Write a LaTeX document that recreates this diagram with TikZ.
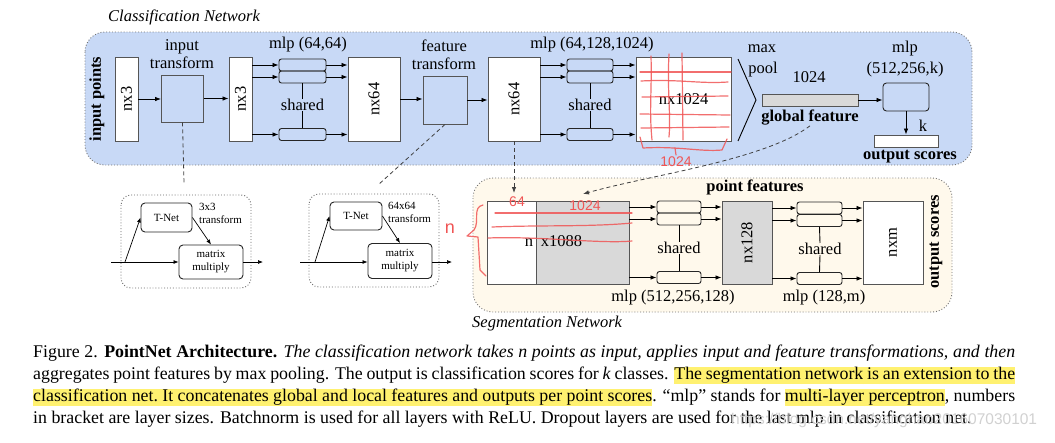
\documentclass[tikz,border=0pt]{standalone}
\usepackage{fontspec}
\setmainfont{Liberation Serif}
\newfontfamily\annfont{Liberation Sans}
\usetikzlibrary{arrows.meta}
\definecolor{clsblue}{RGB}{200,217,246}
\definecolor{segcream}{RGB}{255,249,236}
\definecolor{boxgray}{RGB}{217,217,217}
\definecolor{edgegray}{RGB}{85,85,85}
\definecolor{hly}{RGB}{255,241,112}
\definecolor{annred}{RGB}{240,85,85}
\newcommand\dfont{\fontsize{16.5}{18.5}\selectfont}
\newcommand\sfnt{\fontsize{11}{13}\selectfont}
\newcommand\capfont{\fontsize{17.85}{22.2}\selectfont}
\newcommand\hw[1]{{\setlength{\fboxsep}{0pt}\colorbox{hly}{\rule[-4.5pt]{0pt}{17pt}#1}}}
\newcommand\hs{{\color{hly}\leaders\hrule height 12.5pt depth 4.5pt\hskip\fontdimen2\font plus\fontdimen3\font minus\fontdimen4\font}}
\tikzset{
  bigbox/.style={draw=edgegray, line width=0.9pt, fill=white, inner sep=0pt},
  mlpbox/.style={draw=black!85, line width=0.9pt, rounded corners=2.5pt, inner sep=0pt, minimum height=12pt},
  arr/.style={-{Latex[length=6pt,width=4.5pt]}, line width=0.8pt},
  sarr/.style={-{Latex[length=5pt,width=4pt]}, line width=0.7pt},
  lbl/.style={inner sep=0pt, font=\dfont},
  tnet/.style={draw=black!85, line width=0.9pt, rounded corners=4pt, inner sep=0pt, font=\sfnt, align=center},
  dotbox/.style={draw=black!60, dotted, line width=0.9pt, rounded corners=10pt},
  bgbox/.style={draw=black!55, dotted, line width=0.9pt, rounded corners=20pt},
  dashedline/.style={draw=black!75, dash pattern=on 4pt off 3pt, line width=0.8pt},
  ann/.style={draw=annred, line width=1.2pt, line cap=round, line join=round, opacity=0.85},
  anntext/.style={inner sep=0pt, text=annred, font=\annfont\fontsize{14}{16}\selectfont},
  capline/.style={anchor=base west, inner sep=0pt, font=\capfont}
}
\begin{document}
\begin{tikzpicture}[x=1pt,y=-1pt]
\useasboundingbox (0,0) rectangle (1055,442);
\fill[white] (0,0) rectangle (1055,442);

% ---------------- Classification network ----------------
\draw[bgbox, fill=clsblue] (85,32) rectangle (972,165);
\node[lbl, font=\dfont\itshape, anchor=west] (clstitle) at (108,17) {Classification Network};
\node[lbl, font=\dfont\bfseries, rotate=90] (inpts) at (97,99) {input points};

\node[bigbox, minimum width=23, minimum height=84] (nxa) at (126.5,99) {};
\node[lbl, rotate=90] (nxat) at (nxa) {nx3};
\node[bigbox, fill=none, minimum width=42, minimum height=47] (itf) at (182.5,98.5) {};
\node[lbl, align=center] (itft) at (182,54) {input\\transform};
\node[bigbox, minimum width=23, minimum height=84] (nxb) at (240.5,99) {};
\node[lbl, rotate=90] (nxbt) at (nxb) {nx3};

\node[mlpbox, minimum width=47] (m1a) at (302.5,65) {};
\node[mlpbox, minimum width=47] (m1b) at (302.5,77) {};
\node[mlpbox, minimum width=47] (m1c) at (302.5,134.5) {};
\node[lbl] (sh1) at (302.5,105) {shared};
\node[lbl] (mlp1t) at (308,45) {mlp (64,64)};

\node[bigbox, minimum width=52, minimum height=84] (nx64a) at (374,99) {};
\node[lbl, rotate=90] (nx64at) at (nx64a) {nx64};
\node[bigbox, fill=none, minimum width=44, minimum height=48] (ftf) at (445,100) {};
\node[lbl, align=center] (ftft) at (444,55) {feature\\transform};
\node[bigbox, minimum width=52, minimum height=84] (nx64b) at (514,99) {};
\node[lbl, rotate=90] (nx64bt) at (nx64b) {nx64};

\node[mlpbox, minimum width=46] (m2a) at (590,65) {};
\node[mlpbox, minimum width=46] (m2b) at (590,77) {};
\node[mlpbox, minimum width=46] (m2c) at (590,134.5) {};
\node[lbl] (sh2) at (590,105) {shared};
\node[lbl] (mlp2t) at (592,45) {mlp (64,128,1024)};

\node[bigbox, minimum width=95, minimum height=84] (nx1024) at (683.5,99) {};
\node[lbl] (nx1024t) at (nx1024) {nx1024};

\coordinate (mpa) at (738,59);
\coordinate (mpb) at (756,100);
\coordinate (mpc) at (738,141);
\draw[line width=0.9pt] (mpa) -- (mpb) -- (mpc);
\node[lbl] (maxt) at (762,49) {max};
\node[lbl] (poolt) at (763,70) {pool};
\node[lbl] (gfdim) at (809,77) {1024};
\node[bigbox, fill=boxgray, minimum width=96, minimum height=12] (gf) at (810,100) {};
\node[lbl, font=\dfont\bfseries] (gft) at (810,118) {global feature};

\node[mlpbox, rounded corners=3.5pt, minimum width=46, minimum height=28] (mlp3) at (906,97) {};
\node[lbl] (mlp3t) at (905,49) {mlp};
\node[lbl] (mlp3u) at (905,70) {(512,256,k)};
\node[bigbox, minimum width=64, minimum height=12] (outb) at (906,141) {};
\node[lbl] (kt) at (923,126) {k};
\node[lbl, font=\dfont\bfseries] (outt) at (910,157) {output scores};

% arrows classification
\draw[arr] (nxa.east) -- (itf.west |- nxa.east);
\draw[arr] (itf.east) -- (nxb.west |- itf.east);
\foreach \m in {m1a,m1b,m1c}{
  \draw[arr] (nxb.east |- \m.west) -- (\m.west);
  \draw[arr] (\m.east) -- (nx64a.west |- \m.east);
}
\draw[line width=0.9pt] (m1b.south) -- (sh1.north);
\draw[line width=0.9pt] (sh1.south) -- (m1c.north);
\draw[arr] (nx64a.east) -- (ftf.west |- nx64a.east);
\draw[arr] (ftf.east) -- (nx64b.west |- ftf.east);
\foreach \m in {m2a,m2b,m2c}{
  \draw[arr] (nx64b.east |- \m.west) -- (\m.west);
  \draw[arr] (\m.east) -- (nx1024.west |- \m.east);
}
\draw[line width=0.9pt] (m2b.south) -- (sh2.north);
\draw[line width=0.9pt] (sh2.south) -- (m2c.north);
\draw[arr] (gf.east) -- (mlp3.west |- gf.east);
\draw[arr] (mlp3.south) -- (outb.north);

% ---------------- T-Net sub boxes ----------------
\draw[dotbox] (121,195) rectangle (251,288);
\node[tnet, minimum width=51, minimum height=29] (tn1) at (166.5,217.5) {T-Net};
\node[tnet, minimum width=64, minimum height=34] (mm1) at (211,262) {matrix\\multiply};
\node[anchor=north west, inner sep=0pt, font=\sfnt, align=left] (tf1) at (199,203) {3x3\\transform};
\coordinate (in1) at (111,262);
\coordinate (br1) at (125,262);
\coordinate (out1) at (263,262);
\draw[sarr] (in1) -- (mm1.west);
\draw[sarr] (br1) -- (tn1.west);
\draw[sarr] (tn1.east) -- (mm1.north);
\draw[sarr] (mm1.east) -- (out1);

\draw[dotbox] (309,194) rectangle (439,287);
\node[tnet, minimum width=52, minimum height=28] (tn2) at (356,216) {T-Net};
\node[tnet, minimum width=64, minimum height=35] (mm2) at (400,261) {matrix\\multiply};
\node[anchor=north west, inner sep=0pt, font=\sfnt, align=left] (tf2) at (388,202) {64x64\\transform};
\coordinate (in2) at (300,262);
\coordinate (br2) at (315,262);
\coordinate (out2) at (452,262);
\draw[sarr] (in2) -- (mm2.west |- in2);
\draw[sarr] (br2) -- (tn2.west);
\draw[sarr] (tn2.east) -- (mm2.north);
\draw[sarr] (mm2.east |- out2) -- (out2);

\coordinate (d1) at (184,183);
\draw[dashedline] (itf.south) -- (d1);
\coordinate (d2) at (378,185);
\draw[dashedline] (ftf.south) -- (d2);

% ---------------- Segmentation network ----------------
\draw[bgbox, fill=segcream] (473,178) rectangle (952,312);
\node[lbl, font=\dfont\itshape, anchor=west] (segtitle) at (472,324) {Segmentation Network};
\node[bigbox, minimum width=49, minimum height=83] (cat1) at (511.5,242.5) {};
\node[bigbox, fill=boxgray, minimum width=93, minimum height=83] (cat2) at (582.5,242.5) {};
\node[lbl] (catt) at (553.5,241) {n\hspace{8pt}x1088};

\coordinate (segin1) at (514,193);
\draw[dashedline, -{Latex[length=6pt,width=4.5pt]}] (nx64b.south) -- (segin1);
\coordinate (segin2) at (583,194);
\draw[dashedline, -{Latex[length=6pt,width=4.5pt]}] (gft.south) .. controls (765,160) and (650,175) .. (segin2);

\node[mlpbox, minimum width=44] (s1a) at (679,207) {};
\node[mlpbox, minimum width=44] (s1b) at (679,219) {};
\node[mlpbox, minimum width=44] (s1c) at (679,277.5) {};
\node[lbl] (sh3) at (679,248) {shared};
\node[bigbox, fill=boxgray, minimum width=50, minimum height=83] (nx128) at (747,242.5) {};
\node[lbl, rotate=90] (nx128t) at (nx128) {nx128};
\node[lbl, font=\dfont\bfseries] (pft) at (755,187) {point features};
\node[mlpbox, minimum width=45] (s2a) at (819.5,208) {};
\node[mlpbox, minimum width=45] (s2b) at (819.5,220.5) {};
\node[mlpbox, minimum width=45] (s2c) at (819.5,278.5) {};
\node[lbl] (sh4) at (820,249) {shared};
\node[bigbox, minimum width=60, minimum height=83] (nxm) at (893,242.5) {};
\node[lbl, rotate=90] (nxmt) at (nxm) {nxm};
\node[lbl, font=\dfont\bfseries, rotate=90] (outt2) at (936,242) {output scores};
\node[lbl] (mlp4t) at (673,298) {mlp (512,256,128)};
\node[lbl] (mlp5t) at (824,298) {mlp (128,m)};

\foreach \m in {s1a,s1b,s1c}{
  \draw[arr] (cat2.east |- \m.west) -- (\m.west);
  \draw[arr] (\m.east) -- (nx128.west |- \m.east);
}
\draw[line width=0.9pt] (s1b.south) -- (sh3.north);
\draw[line width=0.9pt] (sh3.south) -- (s1c.north);
\foreach \m in {s2a,s2b,s2c}{
  \draw[arr] (nx128.east |- \m.west) -- (\m.west);
  \draw[arr] (\m.east) -- (nxm.west |- \m.east);
}
\draw[line width=0.9pt] (s2b.south) -- (sh4.north);
\draw[line width=0.9pt] (sh4.south) -- (s2c.north);

% ---------------- red annotations ----------------
\draw[ann] (640,72) -- (731,72);
\draw[ann] (641,81) .. controls (680,79) and (700,84) .. (728,82);
\draw[ann] (642,97) -- (728,96);
\draw[ann] (640,114) -- (730,115);
\draw[ann] (641,128) -- (729,127);
\draw[ann] (651,56) .. controls (652,90) and (649,110) .. (652,140);
\draw[ann] (669,54) .. controls (667,90) and (671,115) .. (669,137);
\draw[ann] (682,53) -- (683,140);
\draw[ann] (640,137) -- (643,148) .. controls (680,146) and (700,152) .. (722,150) -- (727,139);
\draw[ann] (675,148) -- (676,155);
\node[anntext] (r1024a) at (676,162) {1024};

\draw[ann] (495,213) -- (632,213);
\draw[ann] (492,227) .. controls (540,225) and (590,227) .. (632,223);
\draw[ann] (488,238) .. controls (540,236) and (600,244) .. (632,241);
\draw[ann] (483,205) .. controls (472,207) and (480,222) .. (474,230) -- (467,236) -- (478,237) -- (480,270) -- (486,276);
\node[anntext, font=\annfont\fontsize{18}{20}\selectfont] (rn) at (450,229) {n};
\node[anntext] (r64) at (517,202) {64};
\node[anntext] (r1024b) at (585,206) {1024};

% ---------------- caption ----------------
\node[capline] (cap1) at (33,357) {\makebox[982pt][s]{Figure 2. \textbf{PointNet Architecture.} \textit{The classification network takes n points as input, applies input and feature transformations, and then}}};
\node[capline] (cap2) at (33,379.5) {\makebox[982pt][s]{aggregates point features by max pooling. The output is classification scores for \textit{k} classes. \hw{The}\hs\hw{segmentation}\hs\hw{network}\hs\hw{is}\hs\hw{an}\hs\hw{extension}\hs\hw{to}\hs\hw{the}}};
\node[capline] (cap3) at (33,401.5) {\makebox[982pt][s]{\hw{classification}\hs\hw{net.}\hs\hw{It}\hs\hw{concatenates}\hs\hw{global}\hs\hw{and}\hs\hw{local}\hs\hw{features}\hs\hw{and}\hs\hw{outputs}\hs\hw{per}\hs\hw{point}\hs\hw{scores}. ``mlp'' stands for \hw{multi-layer}\hs\hw{perceptron}, numbers}};
\node[capline] (cap4) at (33,423.5) {in bracket are layer sizes. Batchnorm is used for all layers with ReLU. Dropout layers are used for the last mlp in classification net.};
\node[anchor=base west, inner sep=0pt, text=black!18, font=\annfont\fontsize{15.5}{17}\selectfont] (wm) at (731,424) {https://blog.csdn.net/yanghao201607030101};
\end{tikzpicture}
\end{document}
